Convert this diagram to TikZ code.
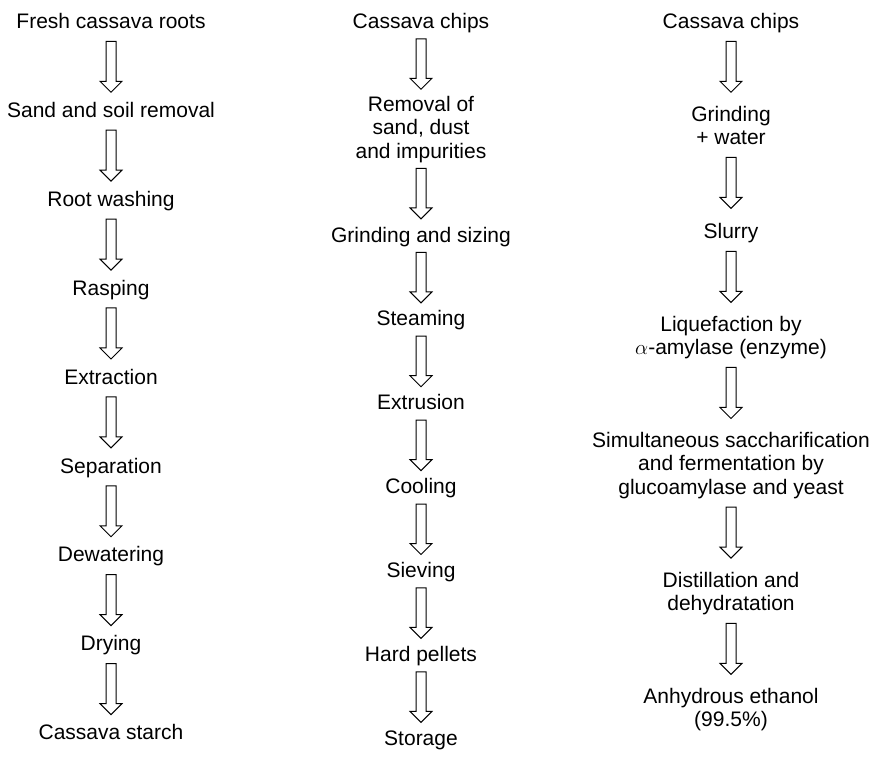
\documentclass[tikz,border=0pt]{standalone}
\usepackage{fontspec}
\setmainfont{Liberation Sans}
\usetikzlibrary{calc,positioning}

\tikzset{
  proc/.style={inner sep=0pt, align=center,
    font=\fontsize{21}{23.5}\selectfont,
    execute at begin node=\strut, execute at end node=\strut},
  gaps/.code 2 args={\def\ga{#1}\def\gb{#2}},
  flow/.style={draw, line width=1pt, line join=miter,
    to path={
      ($(\tikztostart.south)+(-5,-\ga)$) -- ($(\tikztotarget.north)+(-5,\gb+11)$)
      -- ++(-6,0) -- ($(\tikztotarget.north)+(0,\gb)$)
      -- ($(\tikztotarget.north)+(11,\gb+11)$) -- ++(-6,0)
      -- ($(\tikztostart.south)+(5,-\ga)$) -- cycle}}
}

\begin{document}
\begin{tikzpicture}[x=1pt, y=1pt]
    % 枠
    \useasboundingbox (0,0) rectangle (875,-756);

    % デンプン
    \node[proc, anchor=base] (r1) at (111,-28.5) {Fresh cassava roots};
    \node[proc, below=65pt of r1] (r2) {Sand and soil removal};
    \node[proc, below=65pt of r2] (r3) {Root washing};
    \node[proc, below=65pt of r3] (r4) {Rasping};
    \node[proc, below=65pt of r4] (r5) {Extraction};
    \node[proc, below=65pt of r5] (r6) {Separation};
    \node[proc, below=65pt of r6] (r7) {Dewatering};
    \node[proc, below=65pt of r7] (r8) {Drying};
    \node[proc, below=65pt of r8] (r9) {Cassava starch};

    \foreach \i [evaluate=\i as \j using int(\i+1)] in {1,...,8}
        \draw[flow, gaps={5.5}{8.5}] (r\i) to (r\j);

    % ペレット
    \node[proc, anchor=base] (p1) at (421,-28.5) {Cassava chips};
    \node[proc, below=60pt of p1] (p2) {Removal of\\sand, dust\\and impurities};
    \node[proc, below=60pt of p2] (p3) {Grinding and sizing};
    \node[proc, below=60pt of p3] (p4) {Steaming};
    \node[proc, below=60pt of p4] (p5) {Extrusion};
    \node[proc, below=60pt of p5] (p6) {Cooling};
    \node[proc, below=60pt of p6] (p7) {Sieving};
    \node[proc, below=60pt of p7] (p8) {Hard pellets};
    \node[proc, below=60pt of p8] (p9) {Storage};

    \foreach \i [evaluate=\i as \j using int(\i+1)] in {1,...,8}
        \draw[flow, gaps={3}{6.5}] (p\i) to (p\j);

    % エタノール
    \node[proc, anchor=base] (e1) at (731,-28.5) {Cassava chips};
    \node[proc, below=70pt of e1] (e2) {Grinding\\+ water};
    \node[proc, below=70pt of e2] (e3) {Slurry};
    \node[proc, below=70pt of e3] (e4) {Liquefaction by\\$\alpha$-amylase (enzyme)};
    \node[proc, below=70pt of e4] (e5) {Simultaneous saccharification\\and fermentation by\\glucoamylase and yeast};
    \node[proc, below=70pt of e5] (e6) {Distillation and\\dehydratation};
    \node[proc, below=70pt of e6] (e7) {Anhydrous ethanol\\(99.5\%)};

    \foreach \i [evaluate=\i as \j using int(\i+1)] in {1,...,6}
        \draw[flow, gaps={5.5}{13.5}] (e\i) to (e\j);
\end{tikzpicture}
\end{document}
